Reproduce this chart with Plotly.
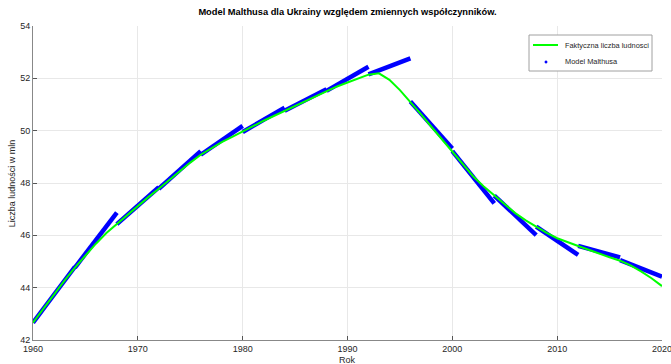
import plotly.graph_objects as go

years = list(range(1960, 2021))
actual = [42.66, 43.20, 43.75, 44.27, 44.77, 45.24, 45.68, 46.09, 46.43, 46.80,
          47.14, 47.46, 47.78, 48.12, 48.45, 48.78, 49.08, 49.33, 49.56, 49.76,
          49.95, 50.17, 50.38, 50.57, 50.76, 50.95, 51.15, 51.34, 51.52, 51.69,
          51.84, 51.99, 52.14, 52.19, 51.94, 51.55, 51.11, 50.63, 50.15, 49.68,
          49.22, 48.72, 48.25, 47.87, 47.52, 47.17, 46.85, 46.57, 46.33, 46.09,
          45.89, 45.73, 45.59, 45.45, 45.29, 45.16, 45.03, 44.85, 44.62, 44.36,
          44.06]

# Malthus model segments (start year, end year, start value, end value)
seg_start_year = [1960, 1964, 1968, 1972, 1976, 1980, 1984, 1988, 1992, 1996, 2000, 2004, 2008, 2012, 2016]
seg_end_year   = [1964, 1968, 1972, 1976, 1980, 1984, 1988, 1992, 1996, 2000, 2004, 2008, 2012, 2016, 2020]
seg_start_val  = [42.66, 44.77, 46.43, 47.78, 49.08, 49.95, 50.76, 51.52, 52.15, 51.11, 49.22, 47.52, 46.33, 45.60, 45.05]
seg_end_val    = [44.80, 46.87, 47.84, 49.22, 50.18, 50.88, 51.58, 52.44, 52.76, 49.32, 47.22, 46.01, 45.25, 45.16, 44.42]

x_ticks = [1960, 1970, 1980, 1990, 2000, 2010, 2020]
y_ticks = [42, 44, 46, 48, 50, 52, 54]
legend_labels = ["Faktyczna liczba ludnosci", "Model Malthusa"]

bx, by = [], []
for a, b, va, vb in zip(seg_start_year, seg_end_year, seg_start_val, seg_end_val):
    bx += [a, b, None]
    by += [va, vb, None]

fig = go.Figure()
fig.add_trace(go.Scatter(x=bx, y=by, mode="lines", line=dict(color="#0000ff", width=4.5),
                         name=legend_labels[1], showlegend=False, hoverinfo="skip",
                         cliponaxis=False))
fig.add_trace(go.Scatter(x=years, y=actual, mode="lines", name=legend_labels[0],
                         line=dict(color="#00ff00", width=2), showlegend=False,
                         cliponaxis=False))

# plot-area pixel geometry (for the boxed legend, in paper coordinates)
L, R, T, B = 33, 662, 26, 340
W, H = R - L, B - T
def px(x):
    return (x - L) / W
def py(y):
    return (B - y) / H

font = "Liberation Sans, Arial, Helvetica, sans-serif"
shapes = [
    dict(type="rect", xref="paper", yref="paper", x0=px(529), x1=px(652), y0=py(71), y1=py(35),
         line=dict(color="#a0a0a0", width=1), fillcolor="white", layer="above"),
    dict(type="line", xref="paper", yref="paper", x0=px(533), x1=px(558), y0=py(45), y1=py(45),
         line=dict(color="#00ff00", width=2), layer="above"),
    dict(type="circle", xref="paper", yref="paper", x0=px(544.8), x1=px(547.2), y0=py(63.2), y1=py(60.8),
         line=dict(color="#0000ff", width=0.5), fillcolor="#0000ff", layer="above"),
]
annotations = [
    dict(text="Rok", xref="paper", yref="paper", x=0.5, y=-0.064,
         xanchor="center", yanchor="middle", showarrow=False,
         font=dict(size=9, color="#262626")),
    dict(text="Liczba ludności w mln", xref="paper", yref="paper", x=-0.033, y=0.5,
         xanchor="center", yanchor="middle", textangle=-90, showarrow=False,
         font=dict(size=9, color="#262626")),
    dict(text=legend_labels[0], xref="paper", yref="paper", x=px(563), y=py(45.5),
         xanchor="left", yanchor="middle", showarrow=False,
         font=dict(size=7.4, color="#262626")),
    dict(text=legend_labels[1], xref="paper", yref="paper", x=px(563), y=py(62),
         xanchor="left", yanchor="middle", showarrow=False,
         font=dict(size=7.4, color="#262626")),
]

fig.update_layout(
    width=671, height=364,
    margin=dict(l=L, r=671 - R, t=T, b=364 - B),
    paper_bgcolor="white", plot_bgcolor="white",
    font=dict(family=font, size=9, color="#262626"),
    showlegend=False,
    title=dict(text="<b>Model Malthusa dla Ukrainy względem zmiennych współczynników.</b>",
               x=0.5179, xanchor="center", y=0.967, yanchor="middle",
               font=dict(size=9.3, color="#000")),
    xaxis=dict(range=[1960, 2020], tickvals=x_ticks, ticks="inside", ticklen=4,
               tickcolor="#555", showline=True, linecolor="#888", linewidth=1,
               showgrid=True, gridcolor="#e8e8e8", zeroline=False, automargin=False,
               ticklabeloverflow="allow", tickfont=dict(size=9)),
    yaxis=dict(range=[42, 54], tickvals=y_ticks, ticks="inside", ticklen=4,
               tickcolor="#555", showline=True, linecolor="#888", linewidth=1,
               showgrid=True, gridcolor="#e8e8e8", zeroline=False, automargin=False,
               ticklabeloverflow="allow", tickfont=dict(size=9)),
    shapes=shapes,
    annotations=annotations,
)

fig.write_html("out.html")
